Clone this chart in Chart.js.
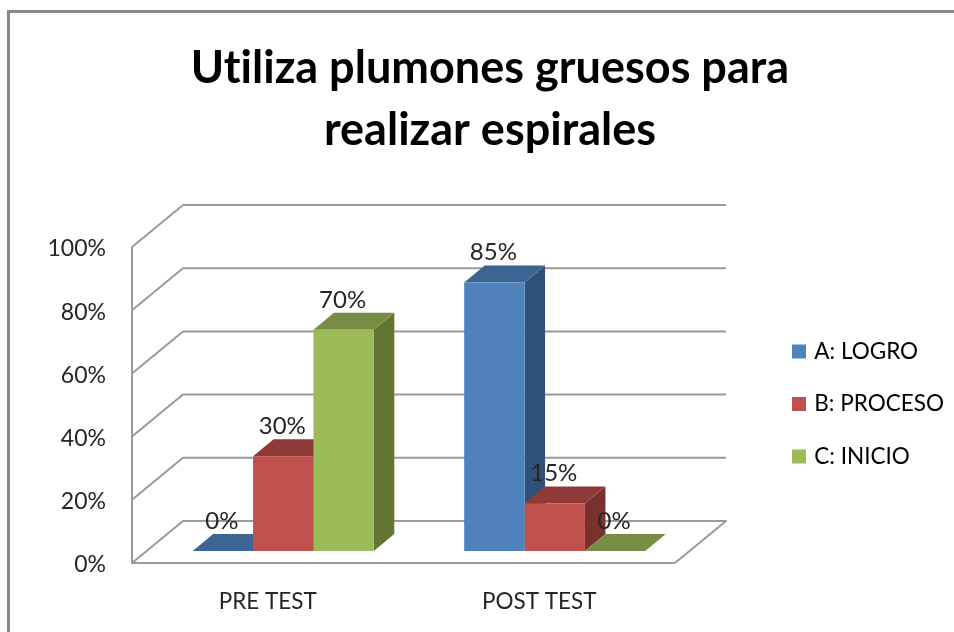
<!DOCTYPE html>
<html>
<head>
<meta charset="utf-8">
<style>
html,body{margin:0;padding:0;background:#fff;overflow:hidden}
#wrap{position:absolute;left:0;top:0;width:954px;height:632px;overflow:hidden}
#frame{position:absolute;left:7px;top:10px;width:960px;height:640px;border:3px solid #878787;box-sizing:border-box}
canvas{position:absolute;left:0;top:0}
</style>
<script src="https://cdn.jsdelivr.net/npm/chart.js@4"></script>
</head>
<body>
<div id="wrap"><div id="frame"></div><canvas id="c" width="954" height="632"></canvas></div>
<script>
const categories = ["PRE TEST", "POST TEST"];
const logro = [0, 85];
const proceso = [30, 15];
const inicio = [70, 0];
const seriesNames = ["A: LOGRO", "B: PROCESO", "C: INICIO"];
const titleLines = ["Utiliza plumones gruesos para", "realizar espirales"];

const frontColors = ["#4F81BD", "#C0504D", "#9BBB59"];
const topColors = ["#3C6594", "#8F3A38", "#778D43"];
const sideColors = ["#2F5078", "#7A302E", "#627533"];
const textColor = "#262626";
const gridColor = "#9A9A9A";
const fontFamily = "Lato, 'Open Sans', sans-serif";

const wallDepth = {x: 51, y: 42};
const barShift = {x: 15.5, y: 12};
const barDepth = {x: 20.5, y: 17};
const legendBandWidth = 279;

function poly(ctx, pts, fill) {
  ctx.beginPath();
  pts.forEach((p, i) => i ? ctx.lineTo(p[0], p[1]) : ctx.moveTo(p[0], p[1]));
  ctx.closePath();
  ctx.fillStyle = fill;
  ctx.fill();
}

const threeD = {
  id: "threeD",
  beforeLayout(chart) {
    const lg = chart.legend;
    if (!lg._bandFit) {
      const fit = lg.fit;
      lg.fit = function () { fit.call(this); this.width = legendBandWidth; };
      lg._bandFit = true;
    }
  },
  afterLayout(chart) {
    const lg = chart.legend;
    lg.left += 90;
    lg.right += 90;
    lg.top += 88;
    lg.bottom += 88;
  },
  beforeDraw(chart) {
    chart.ctx.letterSpacing = "0.01px";
  },
  beforeDatasetsDraw(chart) {
    const {ctx, chartArea: a, scales: {y}} = chart;
    ctx.save();
    ctx.strokeStyle = gridColor;
    ctx.lineWidth = 2;
    ctx.lineJoin = "round";
    y.ticks.forEach(t => {
      const py = y.getPixelForValue(t.value);
      ctx.beginPath();
      ctx.moveTo(a.left, py);
      ctx.lineTo(a.left + wallDepth.x, py - wallDepth.y);
      ctx.lineTo(a.right + wallDepth.x, py - wallDepth.y);
      if (t.value === 0) ctx.lineTo(a.right, py);
      ctx.stroke();
    });
    ctx.beginPath();
    ctx.moveTo(a.left, a.top);
    ctx.lineTo(a.left, a.bottom);
    ctx.lineTo(a.right, a.bottom);
    ctx.stroke();

    ctx.translate(barShift.x, -barShift.y);
    const dx = barDepth.x, dy = barDepth.y;
    chart.data.datasets.forEach((ds, i) => {
      chart.getDatasetMeta(i).data.forEach(b => {
        const p = b.getProps(["x", "y", "base", "width"], true);
        const l = p.x - p.width / 2, r = p.x + p.width / 2;
        if (p.base > p.y) poly(ctx, [[r, p.y], [r + dx, p.y - dy], [r + dx, p.base - dy], [r, p.base]], sideColors[i]);
        poly(ctx, [[l, p.y], [l + dx, p.y - dy], [r + dx, p.y - dy], [r, p.y]], topColors[i]);
      });
    });
    ctx.restore();
  },
  beforeDatasetDraw(chart) {
    chart.ctx.save();
    chart.ctx.translate(barShift.x, -barShift.y);
  },
  afterDatasetDraw(chart) {
    chart.ctx.restore();
  },
  afterDatasetsDraw(chart) {
    const ctx = chart.ctx;
    ctx.save();
    ctx.font = "24px " + fontFamily;
    ctx.fillStyle = textColor;
    ctx.textAlign = "center";
    ctx.textBaseline = "middle";
    chart.data.datasets.forEach((ds, i) => {
      chart.getDatasetMeta(i).data.forEach((b, j) => {
        const p = b.getProps(["x", "y"], true);
        ctx.fillText(ds.data[j] + "%", p.x + barShift.x - 1, p.y - barShift.y - 30);
      });
    });
    ctx.restore();
  }
};

function makeDs(label, data, i) {
  return {label, data, backgroundColor: frontColors[i], borderWidth: 0, clip: false};
}

new Chart(document.getElementById("c"), {
  type: "bar",
  data: {
    labels: categories,
    datasets: [makeDs(seriesNames[0], logro, 0), makeDs(seriesNames[1], proceso, 1), makeDs(seriesNames[2], inicio, 2)]
  },
  plugins: [threeD],
  options: {
    responsive: false,
    animation: false,
    events: [],
    layout: {padding: {left: 26, right: 0, top: 0, bottom: 0}},
    categoryPercentage: 0.667,
    barPercentage: 1,
    scales: {
      x: {
        grid: {display: false},
        border: {display: false},
        ticks: {color: textColor, font: {family: fontFamily, size: 22.5}, padding: 17, maxRotation: 0},
        afterFit(s) { s.height = 69; }
      },
      y: {
        min: 0, max: 100,
        grid: {display: false},
        border: {display: false},
        ticks: {stepSize: 20, color: textColor, font: {family: fontFamily, size: 23}, padding: 18, labelOffset: 2, callback: v => v + "%"},
        afterFit(s) { s.width = 106; }
      }
    },
    plugins: {
      tooltip: {enabled: false},
      title: {
        display: true,
        text: titleLines,
        color: "#000",
        font: {family: fontFamily, size: 45, weight: "bold", lineHeight: 62 / 45},
        padding: {top: 37, bottom: 86}
      },
      legend: {
        position: "right",
        labels: {
          color: textColor,
          font: {family: fontFamily, size: 22.5},
          boxWidth: 8,
          boxHeight: 8,
          padding: 30,
          generateLabels(chart) {
            return chart.data.datasets.map((d, i) => ({
              text: d.label, fillStyle: frontColors[i], strokeStyle: frontColors[i], lineWidth: 6, datasetIndex: i, hidden: false
            }));
          }
        }
      }
    }
  }
});
</script>
</body>
</html>
